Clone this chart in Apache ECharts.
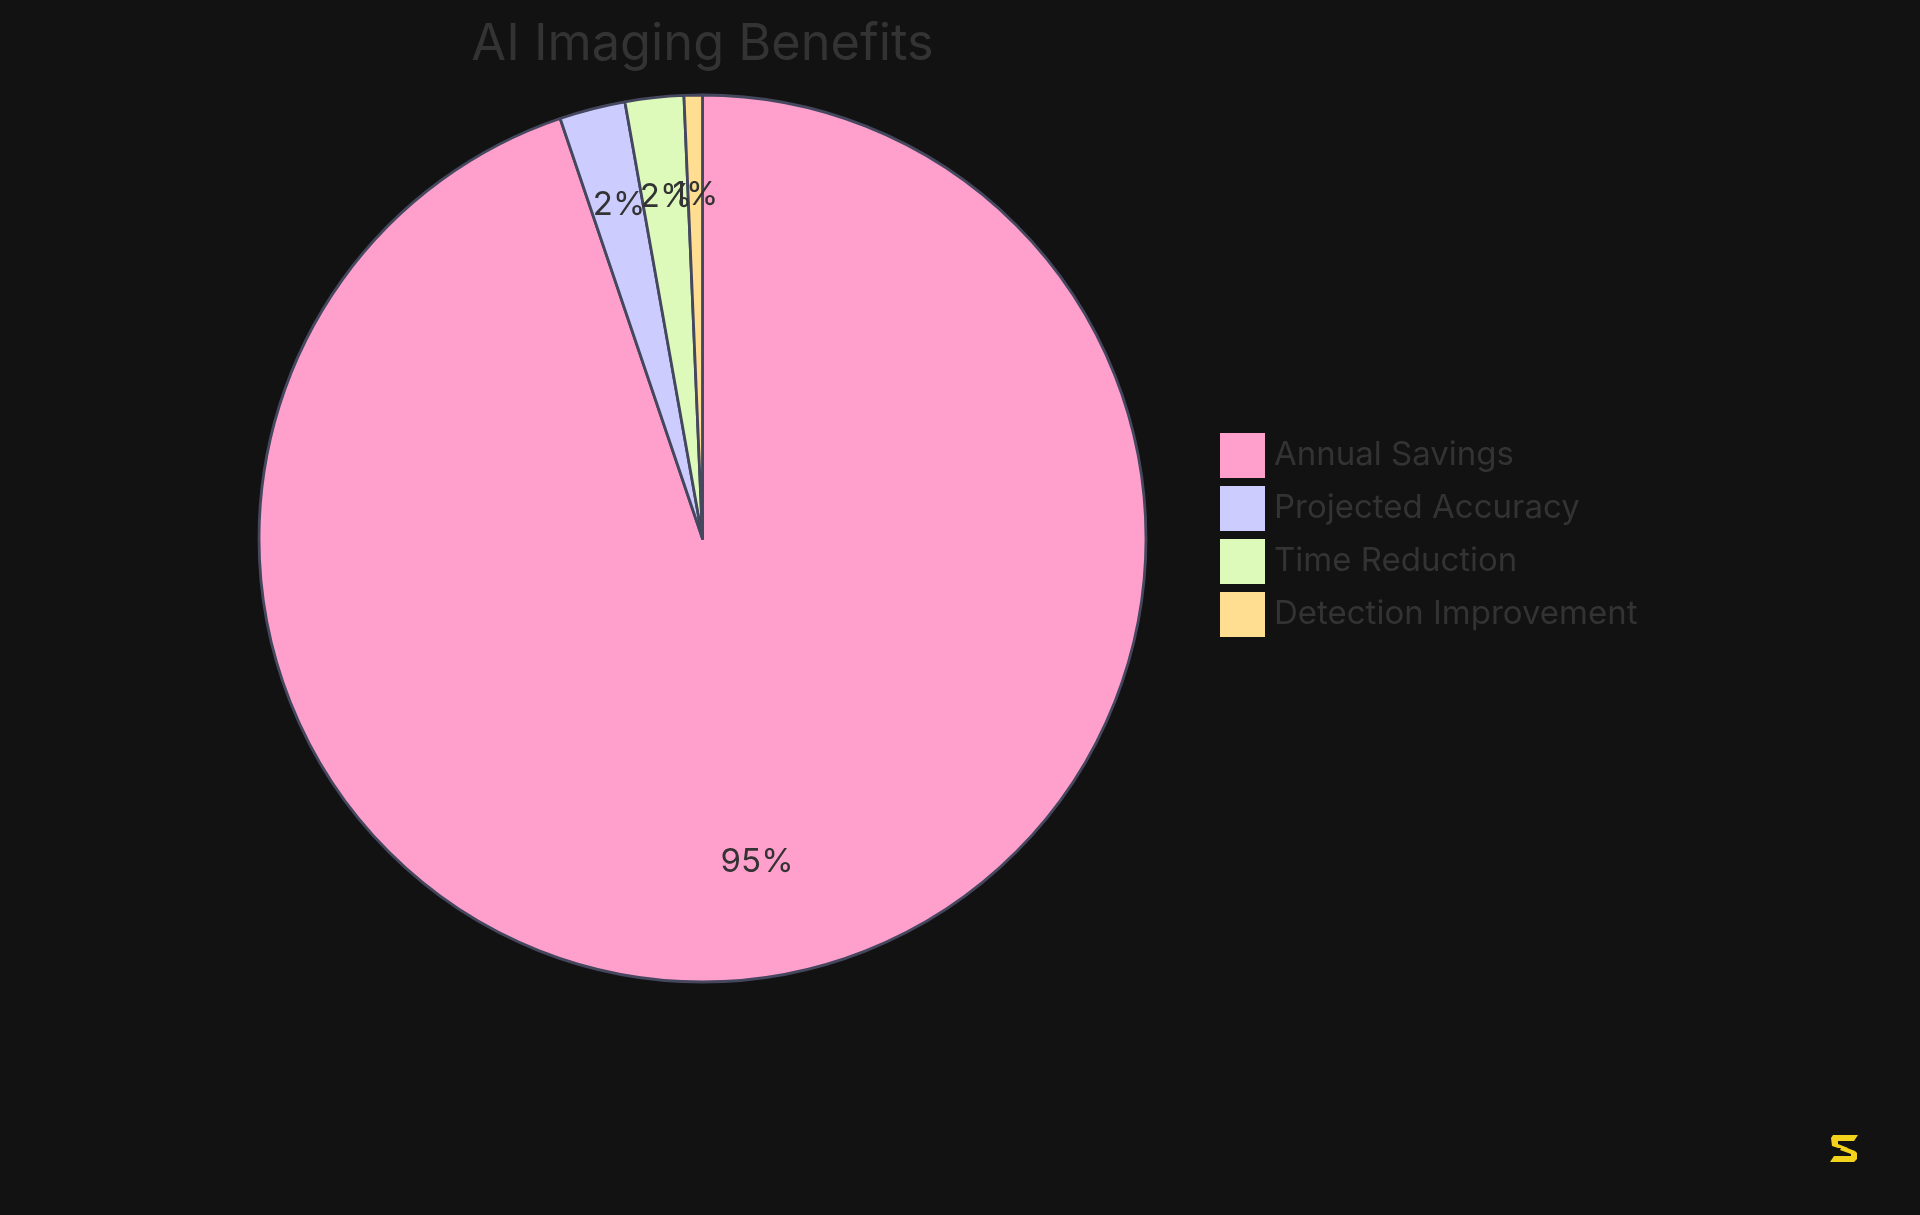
<!DOCTYPE html>
<html>
<head>
<meta charset="utf-8">
<script src="https://cdn.jsdelivr.net/npm/echarts@6/dist/echarts.min.js"></script>
<style>
html,body{margin:0;padding:0;background:#121212;}
#chart{width:1920px;height:1215px;}
</style>
</head>
<body>
<div id="chart"></div>
<script>
const titleText = 'AI Imaging Benefits';
const categories = ['Annual Savings', 'Projected Accuracy', 'Time Reduction', 'Detection Improvement'];
const values = [3555, 90, 80, 25];
const colors = ['#FFA0CC', '#CCCCFF', '#DDFABB', '#FFDE92'];

const data = categories.map((name, i) => ({ name: name, value: values[i], itemStyle: { color: colors[i] } }));
const labelData = categories.map((name, i) => ({ name: name, value: values[i] }));

const CX = 702.5, CY = 538.5, R = 443.5;

const chart = echarts.init(document.getElementById('chart'));
chart.setOption({
  backgroundColor: '#121212',
  animation: false,
  title: {
    text: titleText,
    left: CX - 5,
    top: 14,
    textAlign: 'center',
    textStyle: { fontFamily: 'Inter', fontSize: 50.5, fontWeight: 'normal', color: '#333333' }
  },
  legend: {
    orient: 'vertical',
    left: 1220,
    top: 433,
    padding: 0,
    itemWidth: 45,
    itemHeight: 45,
    itemGap: 8,
    icon: 'rect',
    data: categories,
    itemStyle: { borderWidth: 0 },
    textStyle: { fontFamily: 'Inter', fontSize: 33, color: '#333333', padding: [9, 0, 0, 4] }
  },
  series: [
    {
      type: 'pie',
      center: [CX, CY],
      radius: [0, R],
      startAngle: 90,
      clockwise: true,
      silent: true,
      label: { show: false },
      labelLine: { show: false },
      itemStyle: { borderColor: '#45475E', borderWidth: 2.8 },
      data: data
    },
    {
      type: 'pie',
      center: [CX, CY],
      radius: [R / 2, R],
      startAngle: 90,
      clockwise: true,
      silent: true,
      avoidLabelOverlap: false,
      labelLayout: { hideOverlap: false },
      itemStyle: { color: 'rgba(0,0,0,0)', borderWidth: 0 },
      label: {
        show: true,
        position: 'inside',
        fontFamily: 'Inter',
        fontSize: 33,
        color: '#333333',
        offset: [0, -8],
        formatter: function (p) { return Math.round(p.percent) + '%'; }
      },
      labelLine: { show: false },
      data: labelData
    }
  ],
  graphic: [
    {
      type: 'polygon',
      shape: { points: [[1833,1135],[1858,1135],[1854,1141],[1838,1141],[1838,1144],[1848,1148],[1838,1148],[1832,1146],[1831,1138]] },
      style: { fill: '#F2D21B' }
    },
    {
      type: 'polygon',
      shape: { points: [[1842,1146],[1855,1151],[1857,1153],[1857,1159],[1854,1162],[1830,1162],[1834,1156],[1851,1156],[1851,1154],[1840,1150]] },
      style: { fill: '#F2D21B' }
    }
  ]
});
</script>
</body>
</html>
